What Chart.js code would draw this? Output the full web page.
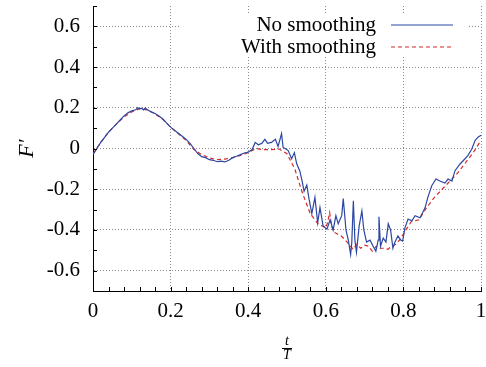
<!DOCTYPE html>
<html>
<head>
<meta charset="utf-8">
<script src="https://cdn.jsdelivr.net/npm/chart.js@4"></script>
<style>
  html, body { margin: 0; padding: 0; background: #fff; }
  #wrap { width: 486px; height: 367px; }
</style>
</head>
<body>
<div id="wrap"><canvas id="forceChart" width="486" height="367"></canvas></div>
<script>
// t/T samples and F' values
const rawT = [0, 0.01, 0.02, 0.03, 0.04, 0.05, 0.06, 0.07, 0.08, 0.09, 0.10, 0.11, 0.115, 0.12, 0.125, 0.13, 0.135, 0.14, 0.15, 0.16, 0.17, 0.18, 0.19, 0.20, 0.21, 0.22, 0.23, 0.24, 0.25, 0.26, 0.27, 0.28, 0.29, 0.30, 0.31, 0.32, 0.33, 0.34, 0.35, 0.36, 0.37, 0.38, 0.39, 0.40, 0.41, 0.418, 0.426, 0.435, 0.443, 0.45, 0.46, 0.47, 0.477, 0.486, 0.49, 0.495, 0.503, 0.512, 0.519, 0.525, 0.533, 0.539, 0.544, 0.551, 0.557, 0.564, 0.572, 0.579, 0.585, 0.593, 0.603, 0.611, 0.619, 0.626, 0.632, 0.641, 0.645, 0.652, 0.658, 0.664, 0.667, 0.671, 0.675, 0.679, 0.686, 0.693, 0.698, 0.705, 0.714, 0.722, 0.729, 0.735, 0.737, 0.741, 0.748, 0.755, 0.761, 0.767, 0.773, 0.778, 0.786, 0.793, 0.798, 0.804, 0.812, 0.822, 0.83, 0.843, 0.856, 0.863, 0.873, 0.884, 0.894, 0.907, 0.915, 0.925, 0.933, 0.946, 0.954, 0.966, 0.976, 0.985, 0.993, 1.0];
const rawF = [-0.03, 0.0, 0.03, 0.055, 0.08, 0.1, 0.12, 0.14, 0.16, 0.175, 0.185, 0.19, 0.2, 0.195, 0.198, 0.19, 0.2, 0.19, 0.18, 0.172, 0.16, 0.145, 0.125, 0.105, 0.09, 0.075, 0.06, 0.045, 0.025, 0.0, -0.025, -0.04, -0.045, -0.055, -0.058, -0.065, -0.062, -0.066, -0.058, -0.045, -0.038, -0.03, -0.022, -0.018, -0.005, 0.03, 0.018, 0.025, 0.045, 0.025, 0.03, 0.045, 0.01, 0.073, 0.005, 0.0, -0.01, -0.05, -0.02, -0.075, -0.11, -0.16, -0.21, -0.18, -0.25, -0.32, -0.24, -0.365, -0.29, -0.38, -0.396, -0.35, -0.40, -0.33, -0.37, -0.33, -0.246, -0.40, -0.45, -0.52, -0.46, -0.257, -0.45, -0.51, -0.38, -0.307, -0.40, -0.46, -0.45, -0.48, -0.505, -0.45, -0.335, -0.48, -0.44, -0.46, -0.37, -0.40, -0.49, -0.46, -0.43, -0.45, -0.455, -0.39, -0.347, -0.355, -0.33, -0.34, -0.29, -0.24, -0.183, -0.15, -0.16, -0.17, -0.15, -0.16, -0.109, -0.076, -0.06, -0.035, -0.004, 0.04, 0.057, 0.065];

const smoothT = [0, 0.02, 0.04, 0.06, 0.08, 0.10, 0.12, 0.14, 0.16, 0.18, 0.20, 0.22, 0.24, 0.26, 0.28, 0.30, 0.32, 0.34, 0.36, 0.38, 0.40, 0.42, 0.44, 0.46, 0.48, 0.50, 0.52, 0.54, 0.56, 0.58, 0.60, 0.605, 0.61, 0.615, 0.62, 0.63, 0.64, 0.65, 0.66, 0.67, 0.68, 0.69, 0.70, 0.71, 0.72, 0.73, 0.74, 0.75, 0.76, 0.77, 0.78, 0.79, 0.80, 0.81, 0.82, 0.84, 0.86, 0.88, 0.90, 0.92, 0.94, 0.96, 0.98, 1.0];
const smoothF = [-0.026, 0.03, 0.08, 0.12, 0.155, 0.18, 0.195, 0.19, 0.17, 0.143, 0.105, 0.072, 0.04, -0.005, -0.03, -0.046, -0.055, -0.052, -0.045, -0.034, -0.02, 0.0, -0.006, -0.006, -0.003, -0.026, -0.1, -0.22, -0.32, -0.37, -0.39, -0.36, -0.315, -0.38, -0.41, -0.42, -0.43, -0.45, -0.47, -0.495, -0.47, -0.49, -0.475, -0.48, -0.505, -0.48, -0.49, -0.49, -0.495, -0.48, -0.47, -0.45, -0.42, -0.39, -0.36, -0.35, -0.29, -0.24, -0.2, -0.16, -0.12, -0.07, -0.02, 0.04];

const seriesNames = ["No smoothing", "With smoothing"];
const seriesColors = ["#2b47a3", "#d42a2a"];

const xTickValues = [0, 0.2, 0.4, 0.6, 0.8, 1];
const yTickValues = [-0.6, -0.4, -0.2, 0, 0.2, 0.4, 0.6];

const serif = "'Liberation Serif', 'DejaVu Serif', serif";

function toPoints(xs, ys) {
  return xs.map((x, i) => ({ x: x, y: ys[i] }));
}

function isLabelled(v, list) {
  return list.some(m => Math.abs(m - v) < 1e-6);
}

function tickText(v, list) {
  if (!isLabelled(v, list)) return "";
  return String(Math.round(v * 10) / 10);
}

// inward tick marks, key box, fraction bar under the t/T title
const extras = {
  id: "extras",
  beforeDatasetsDraw(chart) {
    const ctx = chart.ctx;
    ctx.save();
    ctx.fillStyle = "#fff";
    ctx.fillRect(180, 15, 287, 42);
    ctx.restore();
  },
  afterDraw(chart) {
    const ctx = chart.ctx;
    const xs = chart.scales.x;
    const ys = chart.scales.y;
    const area = chart.chartArea;
    ctx.save();
    ctx.strokeStyle = "#000";
    ctx.lineWidth = 1;
    ctx.beginPath();
    xs.ticks.forEach(t => {
      const px = Math.round(xs.getPixelForValue(t.value)) + 0.5;
      ctx.moveTo(px, area.bottom);
      ctx.lineTo(px, area.bottom - 4);
    });
    ys.ticks.forEach(t => {
      const py = Math.round(ys.getPixelForValue(t.value)) + 0.5;
      ctx.moveTo(area.left, py);
      ctx.lineTo(area.left + 4, py);
    });
    ctx.stroke();

    // fraction bar
    const cx = (area.left + area.right) / 2;
    ctx.beginPath();
    ctx.moveTo(cx - 5, 348.5);
    ctx.lineTo(cx + 5, 348.5);
    ctx.stroke();

    // key
    ctx.font = "21px " + serif;
    ctx.textAlign = "right";
    ctx.textBaseline = "middle";
    chart.data.datasets.forEach((ds, i) => {
      const y = 25 + i * 22;
      ctx.fillStyle = "#000";
      ctx.fillText(ds.label, 376, y);
      ctx.strokeStyle = ds.borderColor;
      ctx.lineWidth = ds.borderWidth;
      ctx.setLineDash(ds.borderDash || []);
      ctx.beginPath();
      ctx.moveTo(391, y);
      ctx.lineTo(453, y);
      ctx.stroke();
    });
    ctx.restore();
  }
};

const ctx = document.getElementById("forceChart").getContext("2d");

new Chart(ctx, {
  type: "line",
  data: {
    datasets: [
      {
        label: seriesNames[0],
        data: toPoints(rawT, rawF),
        borderColor: seriesColors[0],
        borderWidth: 1.2,
        pointRadius: 0,
        fill: false,
        tension: 0
      },
      {
        label: seriesNames[1],
        data: toPoints(smoothT, smoothF),
        borderColor: seriesColors[1],
        borderWidth: 1.2,
        borderDash: [4, 3],
        pointRadius: 0,
        fill: false,
        tension: 0
      }
    ]
  },
  options: {
    responsive: false,
    animation: false,
    layout: { padding: { top: 6, right: 5, left: 0, bottom: 0 } },
    plugins: {
      legend: { display: false },
      tooltip: { enabled: false }
    },
    scales: {
      x: {
        type: "linear",
        min: 0,
        max: 1,
        afterFit(scale) {
          scale.height = 76;
          scale.paddingLeft = 0;
          scale.paddingRight = 0;
        },
        ticks: {
          stepSize: 0.04,
          autoSkip: false,
          maxRotation: 0,
          padding: 8,
          color: "#000",
          font: { family: serif, size: 21 },
          callback: v => tickText(v, xTickValues)
        },
        grid: {
          drawTicks: false,
          lineWidth: 1,
          color: c => (c.tick && isLabelled(c.tick.value, xTickValues) ? "#8a8a8a" : "rgba(0,0,0,0)")
        },
        border: { display: true, color: "#000", width: 1, dash: [1, 2] },
        title: {
          display: true,
          text: ["t", "T"],
          color: "#000",
          font: { family: serif, size: 14, style: "italic", lineHeight: 1.05 },
          padding: { top: 0, bottom: 4 }
        }
      },
      y: {
        min: -0.7,
        max: 0.7,
        afterFit(scale) {
          scale.width = 93;
          scale.paddingTop = 0;
          scale.paddingBottom = 0;
        },
        ticks: {
          stepSize: 0.1,
          autoSkip: false,
          padding: 13,
          color: "#000",
          font: { family: serif, size: 21 },
          callback: v => tickText(v, yTickValues)
        },
        grid: {
          drawTicks: false,
          lineWidth: 1,
          color: c => (c.tick && isLabelled(c.tick.value, yTickValues) ? "#8a8a8a" : "rgba(0,0,0,0)")
        },
        border: { display: true, color: "#000", width: 1, dash: [1, 2] },
        title: {
          display: true,
          text: "F\u2032",
          color: "#000",
          font: { family: serif, size: 22, style: "italic" },
          padding: 14
        }
      }
    }
  },
  plugins: [extras]
});
</script>
</body>
</html>
